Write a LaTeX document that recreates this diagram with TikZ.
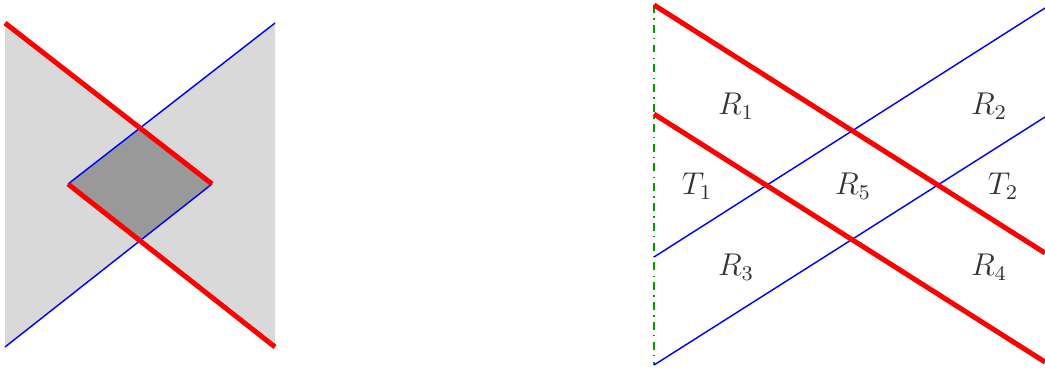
\documentclass[tikz,border=0pt]{standalone}
\begin{document}
\begin{tikzpicture}[
	x=0.0134cm, y=-0.0134cm,
	redline/.style={ red, line width=1.9pt },
	blueline/.style={ blue, line width=0.55pt },
	axisline/.style={ green!60!black, line width=0.55pt, dash dot },
	region/.style={ black!80, inner sep=0pt, font=\large }
]
\useasboundingbox (0,0) rectangle (1045,371);

% left picture
\coordinate (a1) at (5,23);
\coordinate (a2) at (275,23);
\coordinate (a3) at (275,347);
\coordinate (a4) at (5,347);
\coordinate (c1) at (140,128);
\coordinate (c2) at (68,184);
\coordinate (c3) at (212,184);
\coordinate (c4) at (140,240);
\fill[black!15] (a1) -- (c1) -- (a2) -- (a3) -- (c4) -- (a4) -- cycle;
\fill[black!40] (c2) -- (c1) -- (c3) -- (c4) -- cycle;
\draw[blueline] (a2) to (c2);
\draw[blueline] (c3) to (a4);
\draw[redline] (a1) to (c3);
\draw[redline] (c2) to (a3);

% right picture
\coordinate (g1) at (654,5);
\coordinate (g2) at (654,365);
\coordinate (g3) at (654,114);
\coordinate (g4) at (654,257);
\coordinate (h1) at (1045,253);
\coordinate (h2) at (1045,362);
\coordinate (h3) at (1045,8);
\coordinate (h4) at (1045,117);
\draw[axisline] (g1) to (g2);
\draw[blueline] (g4) to (h3);
\draw[blueline] (g2) to (h4);
\draw[redline] (g1) to (h1);
\draw[redline] (g3) to (h2);

\node[region] at (736,106) (r1) {$R_1$};
\node[region] at (989,106) (r2) {$R_2$};
\node[region] at (697,186) (t1) {$T_1$};
\node[region] at (853,186) (r5) {$R_5$};
\node[region] at (1003,186) (t2) {$T_2$};
\node[region] at (736,267) (r3) {$R_3$};
\node[region] at (989,267) (r4) {$R_4$};

\end{tikzpicture}
\end{document}
